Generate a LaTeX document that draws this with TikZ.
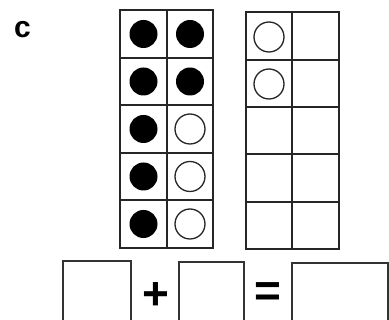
\documentclass[tikz,border=0pt]{standalone}
\usepackage{fontspec}
\setmainfont{Liberation Sans}
\begin{document}
\begin{tikzpicture}[x=1pt,y=-1pt,
  gridline/.style={draw=black!85,line width=1.3pt},
  fullc/.style={circle,fill=black,minimum size=28pt,inner sep=0pt},
  emptyc/.style={circle,draw=black!85,line width=1.3pt,fill=white,minimum size=30pt,inner sep=0pt},
  ansbox/.style={draw=black!80,line width=1.3pt},
  sym/.style={font=\bfseries\fontsize{46}{46}\selectfont,inner sep=0pt}]
\useasboundingbox (0,0) rectangle (389,320);
\clip (0,0) rectangle (389,320);
% label
\node[font=\bfseries\fontsize{30}{30}\selectfont,inner sep=0pt] (lab) at (22.5,29.5) {c};
% left ten-frame
\draw[gridline] (120,10) rectangle (213,248);
\draw[gridline] (167,10) -- (167,248);
\foreach \y in {58,105,153,200} \draw[gridline] (120,\y) -- (213,\y);
% right ten-frame
\draw[gridline] (246,12) rectangle (339,249);
\draw[gridline] (292,12) -- (292,249);
\foreach \y in {60,107,154,202} \draw[gridline] (246,\y) -- (339,\y);
% counters left
\foreach \y/\n in {34/a,81.5/b,129/c,176.5/d,224/e} \node[fullc] (f\n) at (143.5,\y) {};
\node[fullc] (g1) at (190,34) {};
\node[fullc] (g2) at (190,81.5) {};
\node[emptyc] (h1) at (190,129) {};
\node[emptyc] (h2) at (190,176.5) {};
\node[emptyc] (h3) at (190,224) {};
% counters right
\node[emptyc] (r1) at (269,37) {};
\node[emptyc] (r2) at (269,84) {};
% answer boxes
\draw[ansbox] (63,330) -- (63,261) -- (131,261) -- (131,330);
\draw[ansbox] (179,330) -- (179,262) -- (244,262) -- (244,330);
\draw[ansbox] (292,330) -- (292,263) -- (388,263) -- (388,330);
\node[sym] (plus) at (156,296) {+};
\node[sym] (eq) at (268,294.5) {=};
\end{tikzpicture}
\end{document}
